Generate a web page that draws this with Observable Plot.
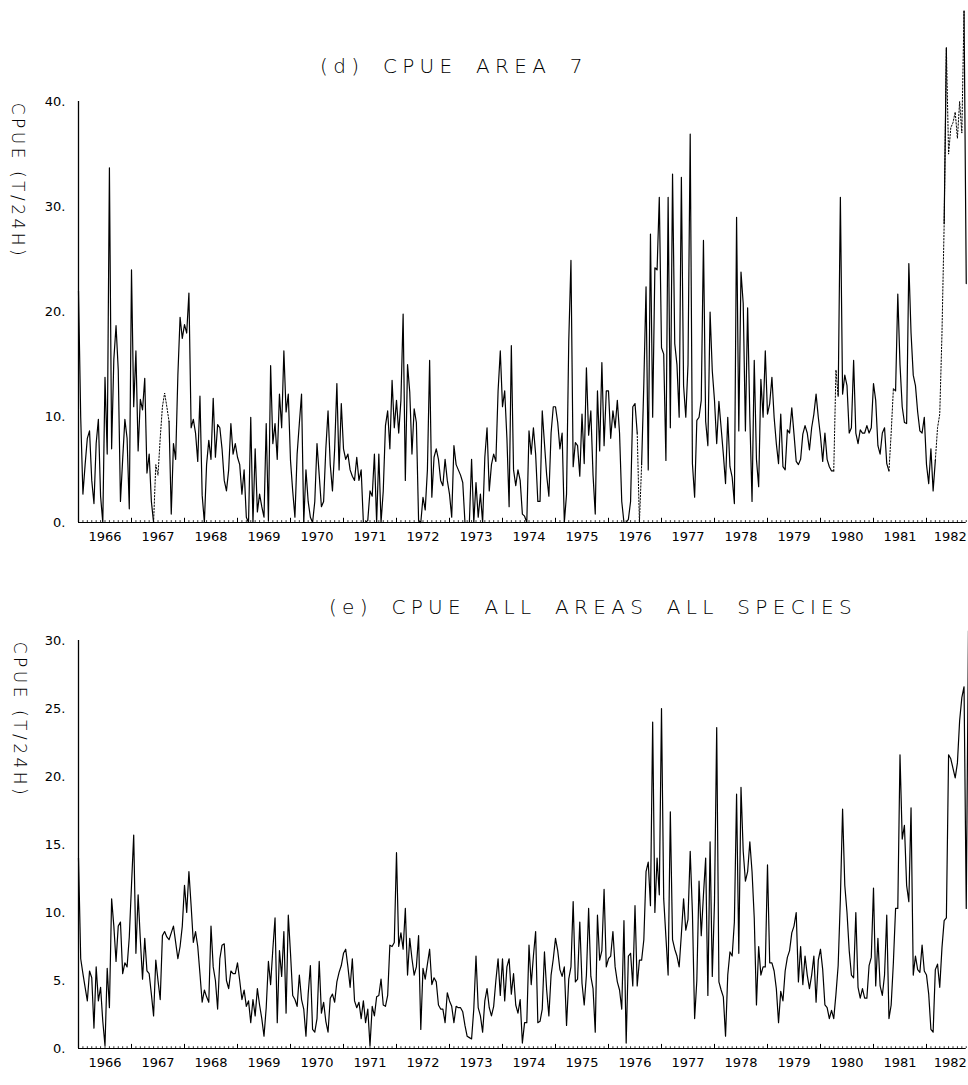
<!DOCTYPE html>
<html>
<head>
<meta charset="utf-8">
<script src="https://cdn.jsdelivr.net/npm/d3@7"></script>
<script src="https://cdn.jsdelivr.net/npm/@observablehq/plot@0.6"></script>
<style>
  body { margin: 0; background: #fff; }
  #wrap { position: relative; width: 968px; height: 1085px; overflow: hidden; background: #fff; }
  #wrap svg { position: absolute; left: 0; }
  .title { position: absolute; transform: translate(-50%, -50%); white-space: nowrap;
           font-family: "DejaVu Sans", sans-serif; font-weight: 200; font-size: 20px;
           letter-spacing: 5.3px; word-spacing: 7px; color: #000; }
  .ylab { position: absolute; transform: translate(-50%, -50%) rotate(90deg); white-space: nowrap;
          font-family: "DejaVu Sans", sans-serif; font-weight: 200; font-size: 17px;
          letter-spacing: 3.5px; color: #000; }
</style>
</head>
<body>
<div id="wrap"></div>
<script>
// ---------- tick labels ----------
const yearLabels = [1966,1967,1968,1969,1970,1971,1972,1973,1974,1975,1976,1977,1978,1979,1980,1981,1982];
const ticksD = [0, 10, 20, 30, 40];
const ticksE = [0, 5, 10, 15, 20, 25, 30];
const titleD = "(d) CPUE AREA 7";
const titleE = "(e) CPUE ALL AREAS ALL SPECIES";
const yTitle = "CPUE (T/24H)";

// ---------- (d) CPUE area 7, solid series: one row per year, half-monthly values ----------
const area7Solid = [
  [22,10,2.7,5.5,8,8.7,4,1.8,7.5,9.8,2.5,0,13.8,6.5,33.7,7,15.5,18.7,14.5,2,6,9.8,8,1.3],
  [24,11,16.3,6.8,11.7,10.7,13.7,4.7,6.5,2,0,null,null,null,null,null,null,9.6,0.8,7.5,6,14,19.5,17.5],
  [18.8,18,21.8,9,9.8,8.5,5.8,12,2.6,0,5.5,7.8,6,11.8,6.2,9.3,9,7,4,3,5,9.4,6.5,7.5],
  [6.2,5.5,2.7,5,0.5,0,10,0,7,1,2.7,1.5,0.5,9.4,0.2,14.9,7.5,9.4,6,12.2,9,16.3,10.5,12.2],
  [5.9,3,0.5,6.5,9.4,12.2,0,5,2,0.5,0,2,7.5,4.5,1.5,2,7,10.6,5.5,3,7,13.2,5,11.3],
  [7,6,6.5,5,4.4,4,6.2,4,5,0,0,0.2,3,2.5,6.5,0,6.5,0,3,9.2,10.6,7,13.5,9],
  [11.6,8.5,11.6,19.8,4,15,12.4,6.5,10.8,9.5,0.2,0,2.4,1.2,5,15.4,2.4,6.2,7,6,4,3.5,6,4],
  [2.7,0.5,7.3,5.5,5,4.5,3.8,0,0,0,6,0,3.8,0.5,2.7,0,6.2,9,3,5.5,6.5,5.8,12.5,16.3],
  [11,12.5,8,1.5,16.8,5,3.5,5,4,0.8,0.6,0,8.7,6.5,9,6.5,2,2,10.6,7.5,4.5,2.5,8.5,11],
  [11,9.5,7,8.5,0,2.7,17.2,24.9,5.3,7.6,7.3,4.4,10.3,5.6,14.7,8.3,10.6,4.5,0.8,12.5,6.8,15.2,7.3,12.5],
  [12.5,8,10.6,9,11.6,8.5,2,0,0,0.3,2,11,11.3,8.5,null,5.5,13.2,22.4,5,27.4,10,24.2,24,30.9],
  [16.6,16,5.9,30.9,9,33.1,17,15,10,32.8,13,10,15,36.9,5.6,2.4,9.7,10,11.6,26.8,9.6,7.3,20,14.4],
  [11.6,7.5,11.5,9,6.5,3.7,10,5.3,4.3,1.8,29,8.7,23.8,20.8,8.7,20.4,10,2,15.4,6,3.4,13.6,10,16.3],
  [10.3,11.3,13.8,10,7.5,5.6,10.3,5.3,5,8.8,8.5,10.9,8.4,5.8,5.5,6,8.4,9.2,8.5,6.9,9,10.3,12.2,10],
  [8.2,5.8,8.5,6,5.3,4.9,4.9,null,12,30.9,12.2,14,13,8.5,9,15.4,8.5,7.5,8.8,8.5,8.5,9.2,8.5,9],
  [13.2,11.6,7.3,6.5,8.5,9,5.6,4.9,null,12.7,12.5,21.7,15,11,9.5,9.4,24.6,18,14,13,10.5,8.7,8.5,10],
  [5.5,3.7,7,3,5.9,null,null,null,28.4,45.1,null,null,null,null,null,null,null,48.6,22.7]
];

// ---------- (d) dotted series where it departs from the solid one: [year, first half-month, values] ----------
const area7DottedRuns = [
  [1967, 10, [0,5.5,4.5,8,11,12.3,11,9.6]],
  [1976, 13, [8.5,0,5.5]],
  [1980, 6, [4.9,14.5,12]],
  [1981, 7, [4.9,8.5,12.7]],
  [1982, 4, [5.9,9,10.3,17.9,28.4,45.1,35,37.5,38,39,36.5,40,37,48.6]]
];

// ---------- (e) CPUE all areas all species ----------
const allAreas = [
  [14,6.6,5.5,4.5,3.5,5.7,5.2,1.5,6,3.5,4.5,2,0.2,5.9,3,11,9,6.4,9,9.3,5.5,6.3,6,8.2],
  [12,15.7,7,11.3,8,5.1,8.1,5.7,5.5,4,2.4,6.5,5,3.6,8.3,8.6,8.2,8,8.5,9,7.8,6.6,7.5,9],
  [12,10,13,10.5,7.8,8.6,7.5,5.5,3.4,4.3,3.8,3.4,9,6,5,2.9,6.6,7.6,7.7,5,4.4,5.7,5.5,5.5],
  [6.3,5,3.6,4.3,3.1,3.5,1.9,3.6,2.4,4.4,3.2,2.2,0.9,3,6.4,4.7,7.3,9.6,1.9,7.2,5.3,8.6,2.6,9.8],
  [7,3.9,3.6,3.1,5.4,3.6,2.9,0.9,4,6.1,1.4,1.2,2.2,6.4,2.6,3.4,2,1.2,3.7,4,3.4,4.9,5.6,6.1],
  [7,7.3,6,4.5,6.6,3.5,3,3.4,2.2,3.5,1.9,2.9,0.2,3.1,2.4,3.8,3.9,5.1,3.2,3.1,3.9,7.6,7.5,7.8],
  [14.4,7.5,8.5,7.3,10.3,5.4,8.1,6.6,5.4,6,8.3,1.4,5.9,5.1,6.2,7.3,4.7,5.2,4.9,3.2,2.9,2.9,1.9,4.1],
  [3.5,3.1,1.9,3.1,3,3,2.7,1.7,0.9,0.8,0.7,2.9,6.8,3,2.4,1.2,3.5,4.4,3,2.4,3.1,5,6.6,3.9],
  [6.6,3.5,6,6.6,4,5.5,3.2,2.6,3.6,0.4,1.9,1.9,7.6,4.7,6.8,8.6,1.9,2,2.9,7.1,4.3,2.4,5.4,6.6],
  [8.1,7.2,5.8,5.3,6,1.7,5.1,6,10.8,4.9,5.1,9.3,4.8,3.2,5.4,10.3,5.3,4.4,1.2,9.8,6.5,7.2,11.7,6],
  [6.6,6.8,8.6,6,4.9,4.3,2.9,9.4,0.4,6.8,7,4.6,10.5,4.6,6.5,6.5,8,13,13.7,10.5,24,10,14,11.3],
  [25,11,8.2,5.4,17.4,8,7.3,6.8,6,8.4,11,8.7,9.5,14.5,10,2.2,5,12.3,8.3,11.3,14,3.9,15.2,5.3],
  [10.8,23.6,4.9,4.3,3.8,0.9,5.4,7.1,6.8,9.3,18.7,7,19.2,14.5,12.3,13,15.2,13,9.6,3.2,7.5,5.4,6,6],
  [13.5,6.3,6.3,5.7,4.4,1.9,4.2,3.5,5.7,6.7,7.2,8.5,9,10,4.9,7.5,4.7,6.8,5.4,4.4,5.4,6.8,3.4,6.5],
  [7.3,5.8,3.2,3,2.2,2.8,2.2,4,6.1,11,17.6,12,10,7.2,5.4,5.2,10,4.5,3.7,4.4,3.7,3.7,6.1,6.7],
  [11.8,4.6,8.1,4.6,3.9,5.4,9.8,2.2,3.2,6.3,10.3,10.3,21.6,15.4,16.4,12,10.8,17.7,5.4,6.8,5.8,5.6,7.6,5.7],
  [5.4,4,1.4,1.2,5.8,6.2,4.5,7.4,9.4,9.6,21.6,21.3,20.6,19.9,21,24.1,25.8,26.6,10.3,30.7]
];

// ---------- build tables ----------
const firstYear = yearLabels[0];
const perYear = 24;
const toRows = (rows) => rows.flatMap((vals, k) => vals.map((v, i) => ({t: firstYear + k + i / perYear, v})));
const solidRows = toRows(area7Solid);
const dottedRows = area7DottedRuns.flatMap(([yr, start, vals], r) =>
  vals.map((v, i) => ({t: yr + (start + i) / perYear, v, r})));
const eRows = toRows(allAreas);
const monthTicks = yearLabels.flatMap(y => d3.range(12).map(m => y + m / 12));
const xDomain = [firstYear, 1982.75];

const fontStyle = {fontFamily: "'DejaVu Sans', sans-serif", fontSize: "13px", color: "#000", background: "#fff"};

function frameMarks(ticks, major, minor) {
  const top = ticks[ticks.length - 1];
  return [
    Plot.ruleY([0], {stroke: "#000", strokeWidth: 1.2}),
    Plot.ruleX([firstYear], {y1: 0, y2: top, stroke: "#000", strokeWidth: 1.3}),
    Plot.ruleX(monthTicks, {y1: 0, y2: minor, stroke: "#000", strokeWidth: 0.8}),
    Plot.ruleX(yearLabels, {y1: 0, y2: major, stroke: "#000", strokeWidth: 1}),
    Plot.text(yearLabels, {x: d => Math.min(d + 0.5, 1982.45), y: 0, dy: 14, text: d => String(d),
      fontSize: 13, fill: "#000", letterSpacing: 1}),
    Plot.axisY({ticks, tickSize: 0, tickPadding: 13, tickFormat: d => d + ".", fontSize: 13, label: null, fill: "#000"})
  ];
}

const wrap = document.getElementById("wrap");

// Panel (d)
const plotD = Plot.plot({
  width: 968, height: 560,
  marginLeft: 78, marginRight: 2.25,
  style: fontStyle,
  x: {domain: xDomain, range: [78, 965.75], axis: null},
  y: {domain: [0, 40], range: [522, 101], label: null},
  marks: [
    ...frameMarks(ticksD, 0.4, 0.18),
    Plot.line(dottedRows, {x: "t", y: "v", z: "r", stroke: "#000", strokeWidth: 1, strokeDasharray: "1.4,1.8"}),
    Plot.lineY(solidRows, {x: "t", y: "v", stroke: "#000", strokeWidth: 1.2})
  ]
});
plotD.style.top = "0px";
wrap.appendChild(plotD);

// Panel (e)
const plotE = Plot.plot({
  width: 968, height: 525,
  marginLeft: 78, marginRight: 2.25,
  style: fontStyle,
  x: {domain: xDomain, range: [78, 965.75], axis: null},
  y: {domain: [0, 30], range: [488, 80], label: null},
  marks: [
    ...frameMarks(ticksE, 0.3, 0.13),
    Plot.lineY(eRows, {x: "t", y: "v", stroke: "#000", strokeWidth: 1.2})
  ]
});
plotE.style.top = "560px";
wrap.appendChild(plotE);

// Titles and y labels
function addText(cls, text, x, y) {
  const d = document.createElement("div");
  d.className = cls; d.textContent = text;
  d.style.left = x + "px"; d.style.top = y + "px";
  wrap.appendChild(d);
}
addText("title", titleD, 454, 66);
addText("title", titleE, 593, 607);
addText("ylab", yTitle, 18, 181);
addText("ylab", yTitle, 20, 720);
</script>
</body>
</html>
